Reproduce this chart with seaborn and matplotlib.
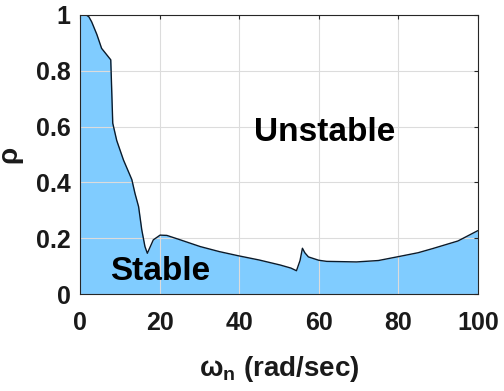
import matplotlib
matplotlib.use("Agg")
import matplotlib.pyplot as plt
import seaborn as sns
import pandas as pd

omega_n = [0.0, 1.5, 2.2, 2.9, 4.2, 5.4, 7.7, 8.2, 9.2, 10.9, 13.0, 13.8, 14.7, 15.5,
           16.3, 16.9, 18.4, 20.1, 21.8, 25.0, 30.2, 35.0, 39.8, 45.0, 50.3,
           53.0, 54.4, 55.3, 55.9, 56.5, 57.4, 60.0, 62.0, 69.5, 75.0, 80.4,
           85.0, 88.7, 95.0, 100.0]
rho = [1.0, 1.0, 0.993, 0.975, 0.93, 0.88, 0.839, 0.612, 0.55, 0.48, 0.41, 0.36, 0.313, 0.23,
       0.17, 0.146, 0.194, 0.211, 0.21, 0.195, 0.17, 0.152, 0.137, 0.122, 0.104,
       0.093, 0.0835, 0.12, 0.164, 0.148, 0.133, 0.121, 0.117, 0.115, 0.12, 0.135,
       0.148, 0.163, 0.19, 0.227]
xticks = [0, 20, 40, 60, 80, 100]
yticks = [0, 0.2, 0.4, 0.6, 0.8, 1]
ytick_labels = ["0", "0.2", "0.4", "0.6", "0.8", "1"]

df = pd.DataFrame({"omega_n": omega_n, "rho": rho})

sns.set_theme(style="whitegrid")
plt.rcParams["font.family"] = ["Liberation Sans", "DejaVu Sans"]
plt.rcParams["mathtext.fontset"] = "custom"
plt.rcParams["mathtext.rm"] = "Liberation Sans:bold"
plt.rcParams["mathtext.it"] = "Liberation Sans:bold"
plt.rcParams["mathtext.bf"] = "Liberation Sans:bold"

fig = plt.figure(figsize=(5.04, 3.91), dpi=100)
ax = fig.add_axes([0.159, 0.248, 0.789, 0.714])

fill_color = "#80CCFF"
ax.fill_between(df["omega_n"], 0, df["rho"], color=fill_color, zorder=2, linewidth=0)
sns.lineplot(data=df, x="omega_n", y="rho", ax=ax, color="#0a1a2a", linewidth=1.0,
             zorder=3, sort=False)

ax.set_xlim(0, 100)
ax.set_ylim(0, 1)
ax.set_xticks(xticks)
ax.set_yticks(yticks)
ax.set_yticklabels(ytick_labels)
ax.set_facecolor("white")
ax.grid(True, color="#dcdcdc", linewidth=0.8, zorder=1)
ax.set_axisbelow(False)
for s in ax.spines.values():
    s.set_color("#262626")
    s.set_linewidth(0.8)
    s.set_zorder(4)
ax.tick_params(direction="in", length=3, width=0.8, color="#262626",
               top=True, right=True, labelsize=18)
ax.tick_params(axis="x", pad=12)
ax.tick_params(axis="y", pad=7)
for lab in ax.get_xticklabels() + ax.get_yticklabels():
    lab.set_fontweight("bold")
    lab.set_color("#1a1a1a")

ax.set_xlabel(r"ω$_\mathrm{n}$ (rad/sec)", fontsize=20, fontweight="bold", color="#1a1a1a")
ax.set_ylabel("ρ", fontsize=20, fontweight="bold", color="#1a1a1a")
ax.xaxis.set_label_coords(0.5, -0.215)
ax.yaxis.set_label_coords(-0.145, 0.5)

ax.text(61.6, 0.577, "Unstable", fontsize=24, fontweight="bold", ha="center", va="center",
        color="black", zorder=5)
ax.text(20.1, 0.08, "Stable", fontsize=24, fontweight="bold", ha="center", va="center",
        color="black", zorder=5)

fig.savefig("out.png", dpi=100)
